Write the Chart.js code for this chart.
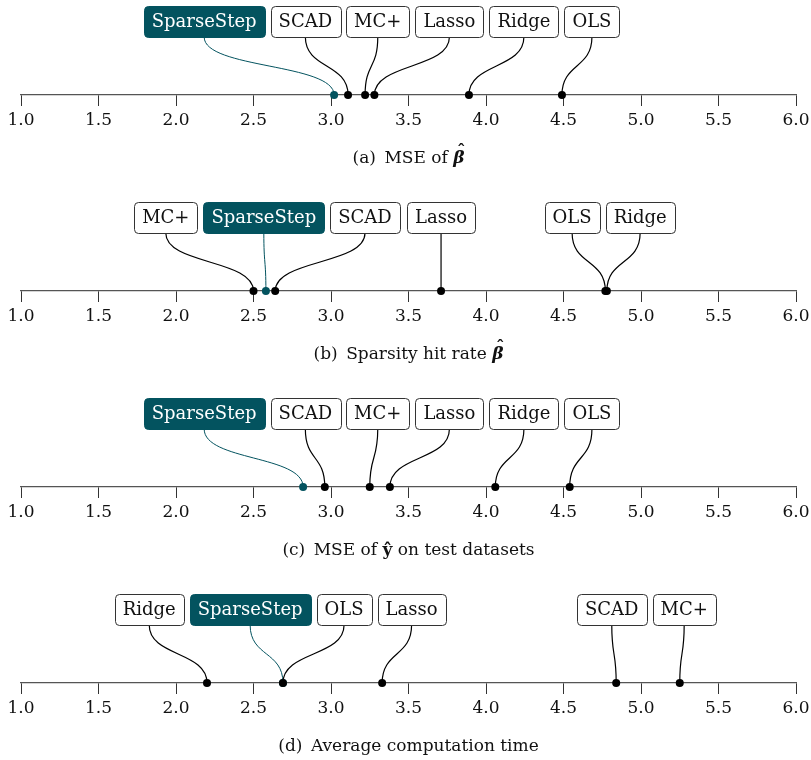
<!DOCTYPE html>
<html lang="en">
<head>
    <meta charset="UTF-8">
    <title>Average rank of each method</title>
    <script src="https://cdn.jsdelivr.net/npm/chart.js"></script>
    <style>
        body {
            margin: 0;
            background: #fff;
            font-family: 'DejaVu Serif', serif;
            color: #111;
        }

        .panel {
            position: relative;
            width: 811px;
            height: 196px;
        }

        .caption {
            position: absolute;
            left: 21px;
            width: 775px;
            top: 147px;
            line-height: 20px;
            font-size: 17px;
            text-align: center;
        }

        /* hat accent over a symbol */
        .hat {
            position: relative;
            display: inline-block;
        }

        .hat::after {
            content: 'ˆ';
            position: absolute;
            left: 0.22em;
            top: -0.42em;
            font-style: normal;
        }
    </style>
</head>
<body>
    <div class="panel">
        <canvas id="rankA" width="811" height="196"></canvas>
        <div class="caption">(a)&ensp;MSE of <b><i class="hat">β</i></b></div>
    </div>
    <div class="panel">
        <canvas id="rankB" width="811" height="196"></canvas>
        <div class="caption">(b)&ensp;Sparsity hit rate <b><i class="hat">β</i></b></div>
    </div>
    <div class="panel">
        <canvas id="rankC" width="811" height="196"></canvas>
        <div class="caption">(c)&ensp;MSE of <b>ŷ</b> on test datasets</div>
    </div>
    <div class="panel">
        <canvas id="rankD" width="811" height="196"></canvas>
        <div class="caption">(d)&ensp;Average computation time</div>
    </div>

    <script>
        // Average ranks (lower is better)
        const methods = ['SparseStep', 'SCAD', 'MC+', 'Lasso', 'Ridge', 'OLS'];
        const mseBeta = [3.02, 3.11, 3.22, 3.28, 3.89, 4.49];
        const hitRate = [2.58, 2.64, 2.50, 3.71, 4.78, 4.77];
        const mseTest = [2.82, 2.96, 3.25, 3.38, 4.06, 4.54];
        const compTime = [2.69, 4.84, 5.25, 3.33, 2.20, 2.69];
        const tickValues = [1.0, 1.5, 2.0, 2.5, 3.0, 3.5, 4.0, 4.5, 5.0, 5.5, 6.0];

        const HIGHLIGHT = 'SparseStep';
        const TEAL = '#03535f';
        const LABEL_FONT = '18px "DejaVu Serif", serif';
        const BOX_TOP = 6;
        const BOX_H = 31;
        const BOX_PAD = 8;
        const BOX_GAP = 6;

        // put labels side by side, as close to their points as possible:
        // overlapping runs are merged and shifted so their mean offset is zero
        function placeLabels(items) {
            const groups = [];
            for (const it of items) {
                let g = { items: [it] };
                groups.push(g);
                fit(g);
                while (groups.length > 1) {
                    const prev = groups[groups.length - 2];
                    if (prev.right + BOX_GAP <= g.left) break;
                    prev.items = prev.items.concat(g.items);
                    groups.pop();
                    g = prev;
                    fit(g);
                }
            }

            function fit(g) {
                let off = 0, sum = 0;
                const offs = g.items.map(it => {
                    const o = off + it.w / 2;
                    off += it.w + BOX_GAP;
                    sum += it.want - o;
                    return o;
                });
                g.left = sum / g.items.length;
                g.right = g.left + off - BOX_GAP;
                g.items.forEach((it, i) => { it.center = g.left + offs[i]; });
            }
        }

        const rankLabels = {
            id: 'rankLabels',
            beforeDatasetsDraw(chart, args, opts) {
                const ctx = chart.ctx;
                const xs = chart.scales.x;
                const axisY = chart.scales.y.getPixelForValue(0);
                ctx.save();
                ctx.font = LABEL_FONT;

                const items = methods.map((name, i) => ({
                    name,
                    value: opts.values[i],
                    want: xs.getPixelForValue(opts.values[i]),
                    w: ctx.measureText(name).width + 2 * BOX_PAD
                }));
                items.sort((a, b) => a.value - b.value);
                placeLabels(items);

                // connectors from box to point
                const y0 = BOX_TOP + BOX_H;
                for (const it of items) {
                    const k = (axisY - y0) * 0.55;
                    ctx.beginPath();
                    ctx.moveTo(it.center, y0);
                    ctx.bezierCurveTo(it.center, y0 + k, it.want, axisY - k, it.want, axisY);
                    ctx.strokeStyle = it.name === HIGHLIGHT ? TEAL : '#000';
                    ctx.lineWidth = it.name === HIGHLIGHT ? 1 : 1.2;
                    ctx.stroke();
                }

                // label boxes
                ctx.textAlign = 'center';
                ctx.textBaseline = 'middle';
                for (const it of items) {
                    const hi = it.name === HIGHLIGHT;
                    ctx.beginPath();
                    ctx.roundRect(Math.round(it.center - it.w / 2) + 0.5, BOX_TOP + 0.5, Math.round(it.w), BOX_H, 4);
                    ctx.fillStyle = hi ? TEAL : '#fff';
                    ctx.fill();
                    ctx.strokeStyle = hi ? TEAL : '#333';
                    ctx.lineWidth = 1;
                    ctx.stroke();
                    ctx.fillStyle = hi ? '#fff' : '#111';
                    ctx.fillText(it.name, it.center, BOX_TOP + BOX_H / 2 + 1);
                }
                ctx.restore();
            }
        };

        function rankChart(id, values) {
            const others = [], mine = [];
            methods.forEach((m, i) => {
                (m === HIGHLIGHT ? mine : others).push({ x: values[i], y: 0 });
            });

            return new Chart(document.getElementById(id), {
                type: 'scatter',
                data: {
                    datasets: [
                        { data: others, backgroundColor: '#000', borderWidth: 0, pointRadius: 4, clip: false },
                        { data: mine, backgroundColor: TEAL, borderWidth: 0, pointRadius: 4, clip: false }
                    ]
                },
                options: {
                    responsive: false,
                    animation: false,
                    events: [],
                    layout: { padding: { left: 21, right: 15, top: 0, bottom: 0 } },
                    plugins: {
                        legend: { display: false },
                        tooltip: { enabled: false },
                        rankLabels: { values }
                    },
                    scales: {
                        x: {
                            type: 'linear',
                            min: 1,
                            max: 6,
                            afterBuildTicks: s => { s.ticks = tickValues.map(v => ({ value: v })); },
                            afterFit: s => {
                                s.height = 101;
                                s.paddingLeft = 0;
                                s.paddingRight = 0;
                            },
                            ticks: {
                                padding: 4,
                                color: '#111',
                                font: { family: 'DejaVu Serif', size: 17 },
                                callback: v => v.toFixed(1)
                            },
                            grid: {
                                drawOnChartArea: false,
                                drawTicks: true,
                                tickLength: 11,
                                color: '#333',
                                lineWidth: 1
                            },
                            border: { display: true, color: '#555', width: 1.3 }
                        },
                        y: { display: false, min: 0, max: 1 }
                    }
                },
                plugins: [rankLabels]
            });
        }

        rankChart('rankA', mseBeta);
        rankChart('rankB', hitRate);
        rankChart('rankC', mseTest);
        rankChart('rankD', compTime);
    </script>
</body>
</html>
